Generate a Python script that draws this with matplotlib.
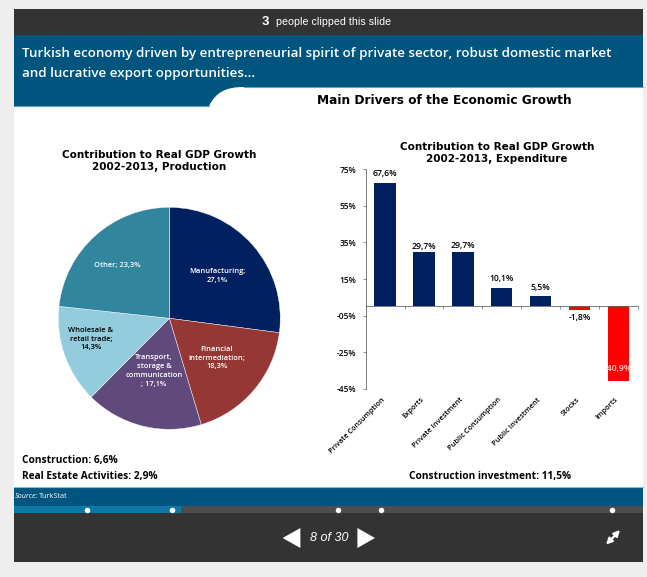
import matplotlib
matplotlib.use("Agg")
from matplotlib import pyplot as plt
from matplotlib.patches import PathPatch, Polygon, Rectangle
from matplotlib.path import Path

W, H = 647, 577

# pie chart values
pie_values = [27.1, 18.3, 17.1, 14.3, 23.3]
pie_colors = ["#002060", "#953735", "#604A7B", "#93CDDD", "#31859C"]
pie_labels = ["Manufacturing;\n27,1%", "Financial\nintermediation;\n18,3%",
              "Transport,\nstorage &\ncommunication\n; 17,1%",
              "Wholesale &\nretail trade;\n14,3%", "Other; 23,3%"]
pie_label_xy = [(217, 276), (217, 358), (154, 371), (91, 339), (117, 265)]
pie_label_colors = ["white", "white", "white", "black", "white"]

# bar chart values
bar_names = ["Private Consumption", "Exports", "Private Investment", "Public Consumption",
             "Public Investment", "Stocks", "Imports"]
bar_values = [67.6, 29.7, 29.7, 10.1, 5.5, -1.8, -40.9]
label_offsets = [6.5, 4, 5, 7, 6.5, -5.5, 9]
y_ticks = [75, 55, 35, 15, -5, -25, -45]
y_tick_labels = ["75%", "55%", "35%", "15%", "-05%", "-25%", "-45%"]

# slide scrubber markers
dots_x = [87, 171.5, 338, 380.6, 611.6]

BODY = "Open Sans"
DARK = "#333333"
BAND = "#00557F"

fig = plt.figure(figsize=(W / 100, H / 100), dpi=100, facecolor="#EEEEEE")


def px_axes(left, top, width, height, zorder=0):
    ax = fig.add_axes([left / W, 1 - (top + height) / H, width / W, height / H], zorder=zorder)
    ax.patch.set_visible(False)
    return ax


# page furniture, drawn in pixel coordinates
bg = px_axes(0, 0, W, H, zorder=0)
bg.set_xlim(0, W)
bg.set_ylim(H, 0)
bg.axis("off")
bg.add_patch(Rectangle((14, 9), 629, 553, color="white", lw=0))
bg.add_patch(Rectangle((14, 9), 629, 26, color=DARK, lw=0))
band = Path([(14, 35), (643, 35), (643, 87), (244, 87), (226, 87), (216, 92), (209, 106), (14, 106), (14, 35)],
            [Path.MOVETO, Path.LINETO, Path.LINETO, Path.LINETO, Path.CURVE4, Path.CURVE4, Path.CURVE4,
             Path.LINETO, Path.CLOSEPOLY])
bg.add_patch(PathPatch(band, facecolor=BAND, edgecolor=BAND, lw=0))
bg.plot([14, 209], [106, 106], color="#5AA5C0", lw=0.8)
bg.plot([244, 643], [87, 87], color="#5AA5C0", lw=0.8)
bg.add_patch(Rectangle((14, 486.5), 629, 19.5, color=BAND, lw=0))
bg.plot([14, 643], [486.5, 486.5], color="#7FC4DC", lw=0.8)
bg.add_patch(Rectangle((14, 506), 629, 7, color="#4D4D4D", lw=0))
bg.add_patch(Rectangle((14, 506), 167, 7, color="#0F76A8", lw=0))
bg.add_patch(Rectangle((14, 513), 629, 49, color=DARK, lw=0))
bg.scatter(dots_x, [509.5] * len(dots_x), s=16, color="white", lw=0, zorder=3)
bg.add_patch(Polygon([(282.6, 538), (300.4, 528), (300.4, 548)], color="white", lw=0))
bg.add_patch(Polygon([(375, 538), (357.4, 528), (357.4, 548)], color="white", lw=0))
for tip in [(620, 530), (606, 544.5)]:
    bg.annotate("", xy=tip, xytext=(613, 537.5),
                arrowprops=dict(arrowstyle="-|>", color="white", lw=1.5, mutation_scale=9, shrinkA=0, shrinkB=0))

bg.text(262, 22, "3", color="white", fontsize=9.5, fontweight="bold", family="Liberation Sans", ha="left", va="center")
bg.text(275.5, 22, "people clipped this slide", color="white", fontsize=7.7, family="Liberation Sans", ha="left", va="center")
bg.text(22, 54, "Turkish economy driven by entrepreneurial spirit of private sector, robust domestic market",
        color="white", fontsize=9.6, fontweight="semibold", family=BODY, va="center")
bg.text(22, 73, "and lucrative export opportunities...", color="white", fontsize=9.6, fontweight="semibold", family=BODY, va="center")
bg.text(444, 101, "Main Drivers of the Economic Growth", fontsize=8.7, fontweight="bold", ha="center", va="center")
bg.text(159, 160.5, "Contribution to Real GDP Growth\n2002-2013, Production", fontsize=7.5, fontweight="bold",
        ha="center", va="center", linespacing=1.25)
bg.text(497, 153.5, "Contribution to Real GDP Growth\n2002-2013, Expenditure", fontsize=7.5, fontweight="bold",
        ha="center", va="center", linespacing=1.25)
bg.text(22, 461, "Construction: 6,6%", fontsize=7.25, fontweight="bold", family=BODY, va="center")
bg.text(22, 476, "Real Estate Activities: 2,9%", fontsize=7.25, fontweight="bold", family=BODY, va="center")
bg.text(409, 476, "Construction investment: 11,5%", fontsize=7.25, fontweight="bold", family=BODY, va="center")
bg.text(15, 496, "Source:", color="white", fontsize=5.2, style="italic", family=BODY, va="center")
bg.text(39, 496, "TurkStat", color="white", fontsize=5.2, family=BODY, va="center")
bg.text(329, 538, "8 of 30", color="white", fontsize=9, style="italic", family="Liberation Sans", ha="center", va="center")

# pie
ax_pie = px_axes(169.3 - 111, 318.3 - 111, 222, 222, zorder=1)
ax_pie.pie(pie_values, colors=pie_colors, startangle=90, counterclock=False, radius=1,
           wedgeprops=dict(lw=0.3, edgecolor="white"))
ax_pie.set_xlim(-1, 1)
ax_pie.set_ylim(-1, 1)

# pie labels, in pixel coordinates above the pie
top = px_axes(0, 0, W, H, zorder=2)
top.set_xlim(0, W)
top.set_ylim(H, 0)
top.axis("off")
for label, (x, y), c in zip(pie_labels, pie_label_xy, pie_label_colors):
    top.text(x, y, label, color=c, fontsize=5.4, fontweight="semibold", family=BODY, ha="center", va="center",
             linespacing=1.35)

# bars
ax_bar = px_axes(365.7, 169.3, 272, 219.4, zorder=3)
positions = list(range(len(bar_values)))
colors = ["#002060" if v > 0 else "#FF0000" for v in bar_values]
ax_bar.bar(positions, bar_values, width=0.55, color=colors)
ax_bar.set_xlim(-0.5, 6.5)
ax_bar.set_ylim(-45, 75)
for s in ["top", "right"]:
    ax_bar.spines[s].set_visible(False)
ax_bar.spines["bottom"].set_position(("data", 0))
ax_bar.spines["bottom"].set_linewidth(0.6)
ax_bar.spines["left"].set_linewidth(0.6)
ax_bar.spines["left"].set_color("#666666")
ax_bar.spines["bottom"].set_color("#666666")
ax_bar.set_xticks([p - 0.5 for p in positions] + [6.5])
ax_bar.set_xticklabels([])
ax_bar.tick_params(axis="x", length=2, width=0.5, color="#666666")
ax_bar.set_yticks(y_ticks)
ax_bar.set_yticklabels(y_tick_labels, fontsize=6, fontweight="semibold", family=BODY)
ax_bar.tick_params(axis="y", length=2, width=0.5, color="#666666", pad=4.5)

for p, v, off, name in zip(positions, bar_values, label_offsets, bar_names):
    txt = f"{v:.1f}%".replace(".", ",")
    color = "#FFD9D9" if v == min(bar_values) else "black"
    ax_bar.annotate(txt, (p, v), xytext=(0, off), textcoords="offset points", ha="center", va="center",
                    color=color, fontsize=6.2, fontweight="semibold", family=BODY)
    ax_bar.annotate(name, (p, -45), xytext=(-2.5, -5.5), textcoords="offset points", ha="right", va="top",
                    rotation=45, rotation_mode="anchor", fontsize=5.3, fontweight="semibold", family=BODY)

fig.savefig("out.png", dpi=100)
